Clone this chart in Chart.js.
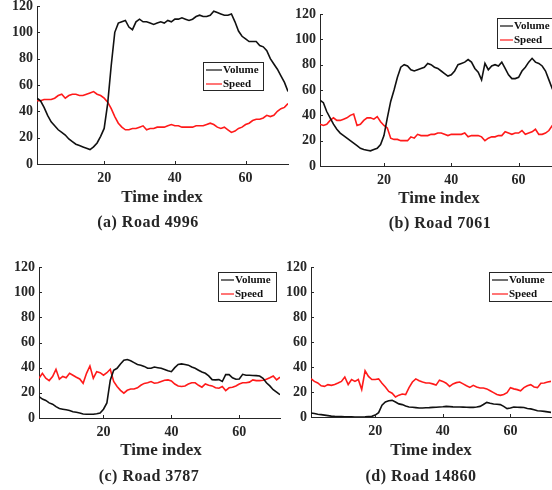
<!DOCTYPE html>
<html>
<head>
<meta charset="utf-8">
<script src="https://cdn.jsdelivr.net/npm/chart.js@4.4.1/dist/chart.umd.min.js"></script>
<style>
  html, body { margin: 0; padding: 0; background: #fff; }
  body { width: 552px; height: 490px; position: relative; overflow: hidden; }
  .panel { position: absolute; }
  .lbl {
    position: absolute;
    transform: translate(-50%, -50%);
    white-space: nowrap;
    font-family: "Liberation Serif", "Times New Roman", serif;
    font-weight: bold;
    color: #262626;
  }
  .xt { font-size: 17px; }
  .cap { font-size: 16px; letter-spacing: 0.5px; }
</style>
</head>
<body>

<div class="panel" style="left:1px; top:-4px;"><canvas id="road4996" width="291" height="192"></canvas></div>
<div class="panel" style="left:284px; top:-4px;"><canvas id="road7061" width="279" height="194"></canvas></div>
<div class="panel" style="left:3px; top:259px;"><canvas id="road3787" width="281" height="183"></canvas></div>
<div class="panel" style="left:275px; top:259px;"><canvas id="road14860" width="280" height="182"></canvas></div>

<div class="lbl xt" style="left:162px; top:197px;">Time index</div>
<div class="lbl cap" style="left:148px; top:222px;">(a) Road 4996</div>
<div class="lbl xt" style="left:439px; top:198px;">Time index</div>
<div class="lbl cap" style="left:440px; top:223px;">(b) Road 7061</div>
<div class="lbl xt" style="left:161px; top:450px;">Time index</div>
<div class="lbl cap" style="left:149px; top:476px;">(c) Road 3787</div>
<div class="lbl xt" style="left:431px; top:450px;">Time index</div>
<div class="lbl cap" style="left:421px; top:476px;">(d) Road 14860</div>

<script>
// --- datos ---
const timeIndex = [1,2,3,4,5,6,7,8,9,10,11,12,13,14,15,16,17,18,19,20,21,22,23,24,25,26,27,28,29,30,31,32,33,34,35,36,
  37,38,39,40,41,42,43,44,45,46,47,48,49,50,51,52,53,54,55,56,57,58,59,60,61,62,63,64,65,66,67,68,69,70,71,72];
const seriesNames = ['Volume', 'Speed'];
const yTicks = [0, 20, 40, 60, 80, 100, 120];
const xTicks = [20, 40, 60];

const volume4996 = [50,48,43,37,32,29,26,24,22,19, 17,15,14,13,12,11,13,16,21,27, 46,75,100,107,108,109,104,102,108,110,
  108,108,107,106,107,108,107,109,108,110, 110,111,110,109,110,112,113,112,112,113, 116,115,114,113,113,114,108,101,97,95,
  93,93,93,90,89,86,80,76,72,67, 62,55];
const speed4996 = [48,48,49,49,49,50,52,53,50,52, 53,53,52,52,53,54,55,53,52,50, 47,42,36,31,28,26,26,27,27,28,
  29,26,27,27,28,28,28,29,30,29, 29,28,28,28,28,29,29,29,30,31, 30,28,27,28,26,24,25,27,28,30,
  31,33,34,34,35,37,36,37,40,42, 43,46];

const volume7061 = [52,50,43,38,33,29,26,24,22,20, 18,16,14,13,12.5,12,13,14,17,24, 38,51,60,70,78,80,79,76,75,76,
  77,78,81,80,78,77,75,73,71,72, 75,80,81,82,84,82,77,74,68,81, 76,79,80,79,82,77,72,69,69,70,
  75,78,82,85,82,81,79,75,68,61, 56,52];
const speed7061 = [33,32,33,36,38,36,36,37,38,40, 41,32,33,36,38,38,37,39,35,32, 30,22,21,21,20,20,20,23,22,25,
  24,24,24,25,25,26,26,25,24,25, 25,25,25,26,23,24,24,24,23,20, 22,23,23,24,24,27,26,25,26,26,
  28,25,26,27,29,25,25,26,28,32, 34,36];

const volume3787 = [17,15,14,12,11,9,7.5,7,6.5,6, 5,4.5,4,3.2,3,3,3,3.4,4,7, 12,30,38,39.5,43,46,46.5,45.5,44,42.5,
  42,41,39.5,39.5,40.5,40,39.5,38.5,37.5,36.8, 40,42.5,43,42.5,42,40.5,39.5,38,36.5,35.5,
  33.5,30.5,30.3,30.5,29,34.5,34.5,32,30.8,31, 34.7,34,34,33.8,33.7,33.4,31.5,28,25.5,22.5, 20.5,18.5];
const speed3787 = [31.6,35.5,31.6,29.7,33,38.7,30.8,33,32,35.5, 34,32.4,31,27.6,35.5,41.3,31.6,36.8,36,34,
  36,38.7,29,25,22,19.7,22,23,23,24, 26,27.5,28,29,27.6,28,29,30,30.3,29.5, 27,25.5,25,25.5,27,28,28,26,24.5,27,
  26,25.5,24,23.7,25,21.8,24,24.5,25.5,27, 28,28,28.5,30.3,29.7,29.7,30,30.8,32,33.4, 30.3,32.4];

const volume14860 = [3.2,2.8,2.2,1.9,1.5,1.1,0.7,0.5,0.4,0.3, 0.2,0.2,0.1,0,0,0,0.1,0.3,0.5,1.5,
  3.5,9.5,12,13,13.3,12,10.5,9.9,8.8,8, 7.8,7.5,7.2,7.2,7.4,7.5,7.7,7.8,8,8.2, 8.5,8.3,8.1,8,8,7.9,7.8,7.7,7.7,8,
  8.5,10,11.7,11,10.4,10.2,9.9,8.5,6.7,7.2, 8,7.8,7.7,7.6,6.8,6.5,5.8,5,4.8,4.5, 4.1,3.7];
const speed14860 = [30.7,28.5,27.2,25,24.5,25.9,25.3,26,27.2,28.5, 32,26,30,28.5,30,22,37,32.5,30,30,
  30.5,27,24,20.5,19,16,17.5,18.4,18,23.5, 28,30.5,29,28,27.2,27.2,26.5,25.5,29.5,28.5,
  27,24.5,26.5,27.5,28,26.5,25,23.7,25.3,24, 23.2,23.2,22.5,21,19.5,18,17.3,18,19.5,23.5,
  22.5,21.9,21,23.5,25,25.9,24,23.5,27,27.2, 28,28.5];

const axisColor = '#262626';
const serif = '"Liberation Serif", "Times New Roman", serif';

// marcas de eje hacia dentro y leyenda con recuadro (estilo MATLAB)
const matlabStyle = {
  id: 'matlabStyle',
  afterDraw(chart, args, opts) {
    const ctx = chart.ctx;
    const area = chart.chartArea;
    const xs = chart.scales.x, ys = chart.scales.y;
    ctx.save();
    ctx.strokeStyle = axisColor;
    ctx.lineWidth = 1;
    ctx.beginPath();
    yTicks.forEach(v => {
      const py = Math.round(ys.getPixelForValue(v)) + 0.5;
      ctx.moveTo(area.left, py);
      ctx.lineTo(area.left + 3, py);
    });
    xTicks.forEach(v => {
      const px = Math.round(xs.getPixelForValue(v)) + 0.5;
      ctx.moveTo(px, area.bottom);
      ctx.lineTo(px, area.bottom - 3);
    });
    ctx.stroke();

    // leyenda
    const b = opts.box;
    ctx.fillStyle = '#fff';
    ctx.fillRect(b.x, b.y, b.w, b.h);
    ctx.strokeRect(b.x + 0.5, b.y + 0.5, b.w, b.h);
    ctx.font = 'bold 11px ' + serif;
    ctx.textBaseline = 'middle';
    ctx.textAlign = 'left';
    chart.data.datasets.forEach((ds, i) => {
      const rowY = b.y + 8 + i * 14;
      ctx.strokeStyle = ds.borderColor;
      ctx.lineWidth = 1.2;
      ctx.beginPath();
      ctx.moveTo(b.x + 3, rowY);
      ctx.lineTo(b.x + b.line, rowY);
      ctx.stroke();
      ctx.fillStyle = '#111';
      ctx.fillText(ds.label, b.x + b.line + 1, rowY);
    });
    ctx.restore();
  }
};

function makeChart(id, volume, speed, cfg) {
  const tickFont = { family: serif, size: 14, weight: 'bold' };
  new Chart(document.getElementById(id), {
    type: 'line',
    data: {
      datasets: [
        { label: seriesNames[0], data: timeIndex.map((t, i) => ({ x: t, y: volume[i] })),
          borderColor: '#111', borderWidth: 1.6, pointRadius: 0, tension: 0 },
        { label: seriesNames[1], data: timeIndex.map((t, i) => ({ x: t, y: speed[i] })),
          borderColor: '#ff1a1a', borderWidth: 1.6, pointRadius: 0, tension: 0 }
      ]
    },
    options: {
      responsive: false,
      animation: false,
      layout: { padding: { top: cfg.padTop, right: 4, left: 0, bottom: 0 } },
      plugins: {
        legend: { display: false },
        tooltip: { enabled: false },
        matlabStyle: { box: cfg.legend }
      },
      scales: {
        x: {
          type: 'linear', min: 1, max: 72,
          afterBuildTicks: s => { s.ticks = xTicks.map(v => ({ value: v })); },
          afterFit: s => { s.height = 24; s.paddingLeft = 0; s.paddingRight = 0; },
          grid: { display: false, drawTicks: false },
          border: { display: true, color: axisColor, width: 1 },
          ticks: { font: tickFont, color: axisColor, padding: 6, maxRotation: 0 }
        },
        y: {
          min: 0, max: 120,
          afterBuildTicks: s => { s.ticks = yTicks.map(v => ({ value: v })); },
          afterFit: s => { s.width = 36; s.paddingTop = 0; s.paddingBottom = 0; },
          grid: { display: false, drawTicks: false },
          border: { display: true, color: axisColor, width: 1 },
          ticks: { font: tickFont, color: axisColor, padding: 4 }
        }
      }
    },
    plugins: [matlabStyle]
  });
}

makeChart('road4996', volume4996, speed4996, { padTop: 10, legend: { x: 202, y: 66, w: 60, h: 28, line: 19 } });
makeChart('road7061', volume7061, speed7061, { padTop: 18, legend: { x: 213, y: 22, w: 62, h: 30, line: 16 } });
makeChart('road3787', volume3787, speed3787, { padTop: 8, legend: { x: 215, y: 13, w: 58, h: 29, line: 16 } });
makeChart('road14860', volume14860, speed14860, { padTop: 8, legend: { x: 214, y: 13, w: 64, h: 29, line: 19 } });
</script>
</body>
</html>
